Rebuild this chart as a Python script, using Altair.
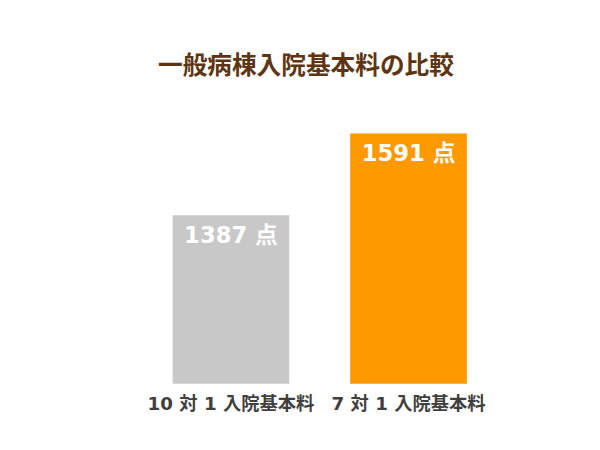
import altair as alt
import pandas as pd

categories = ["10 対 1 入院基本料", "7 対 1 入院基本料"]
values = [1387, 1591]
unit = "点"

df = pd.DataFrame({
    "cat": categories,
    "val": values,
    "label": [f"{v} {unit}" for v in values],
})

FONT = "DejaVu Sans, Noto Sans CJK JP"
CJK = "Noto Sans CJK JP"

x = alt.X("cat:N", sort=categories, title=None,
          scale=alt.Scale(paddingInner=0.343, paddingOuter=0.1715),
          axis=alt.Axis(domain=False, ticks=False, labelAngle=0, labelFont=FONT,
                        labelFontSize=18.5, labelFontWeight="bold", labelColor="#3f3f3f",
                        labelPadding=11, grid=False))
y = alt.Y("val:Q", title=None, scale=alt.Scale(domain=[967, 1591], nice=False, zero=False),
          axis=None)

bars = alt.Chart(df).mark_bar(clip=True).encode(
    x=x, y=y,
    color=alt.Color("cat:N", sort=categories, legend=None,
                    scale=alt.Scale(domain=categories, range=["#c8c8c8", "#ff9900"])),
)

labels = alt.Chart(df).mark_text(
    font=FONT, fontSize=23, fontWeight="bold", color="white", baseline="middle", dy=21
).encode(x=x, y=y, text="label:N")

chart = (bars + labels).properties(
    width=360, height=254,
    title=alt.TitleParams("一般病棟入院基本料の比較", font=CJK, fontSize=25, fontWeight="bold",
                          color="#5e3512", anchor="middle", baseline="bottom", offset=30, dx=-14),
    autosize=alt.AutoSizeParams(type="none"),
    padding={"left": 136, "top": 124, "right": 96, "bottom": 50},
).configure_view(stroke=None)

chart.save("out.html", embed_options={"renderer": "svg", "actions": False})
